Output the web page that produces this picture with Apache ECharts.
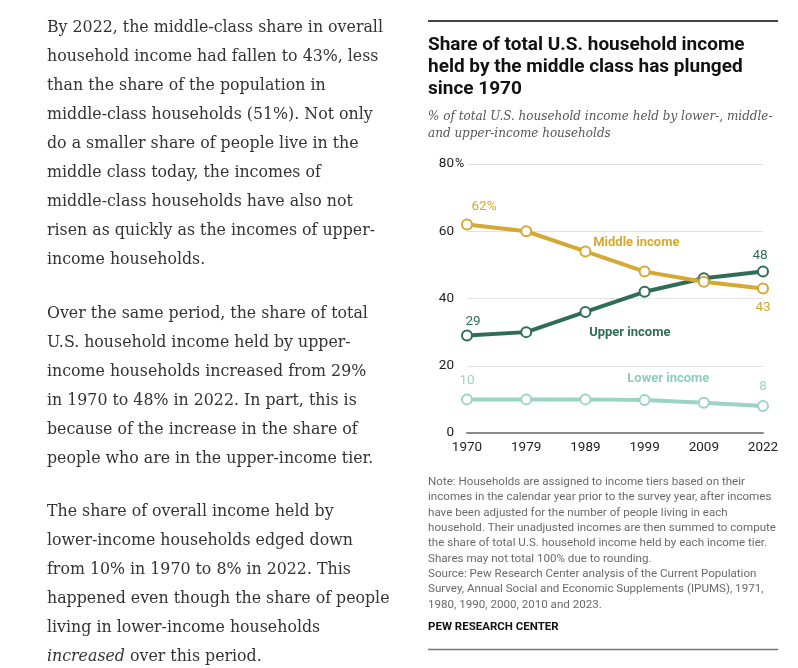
<!DOCTYPE html>
<html><head><meta charset="utf-8">
<script src="https://cdn.jsdelivr.net/npm/echarts@6/dist/echarts.min.js"></script>
<style>html,body{margin:0;padding:0;background:#fff}#c{width:798px;height:668px}</style>
</head><body><div id="c"></div>
<script>
const years = ['1970', '1979', '1989', '1999', '2009', '2022'];
const middleIncome = [62, 60, 54, 48, 45, 43];
const upperIncome = [29, 30, 36, 42, 46, 48];
const lowerIncome = [10, 10, 10, 9.8, 9, 8];
const yMin = 0, yMax = 80, yStep = 20;

const titleLines = ['Share of total U.S. household income', 'held by the middle class has plunged', 'since 1970'];
const subtitleLines = ['% of total U.S. household income held by lower-, middle-', 'and upper-income households'];
const noteLines = [
  'Note: Households are assigned to income tiers based on their',
  'incomes in the calendar year prior to the survey year, after incomes',
  'have been adjusted for the number of people living in each',
  'household. Their unadjusted incomes are then summed to compute',
  'the share of total U.S. household income held by each income tier.',
  'Shares may not total 100% due to rounding.',
  'Source: Pew Research Center analysis of the Current Population',
  'Survey, Annual Social and Economic Supplements (IPUMS), 1971,',
  '1980, 1990, 2000, 2010 and 2023.'
];
const para1 = [
  'By 2022, the middle-class share in overall',
  'household income had fallen to 43%, less',
  'than the share of the population in',
  'middle-class households (51%). Not only',
  'do a smaller share of people live in the',
  'middle class today, the incomes of',
  'middle-class households have also not',
  'risen as quickly as the incomes of upper-',
  'income households.'
];
const para2 = [
  'Over the same period, the share of total',
  'U.S. household income held by upper-',
  'income households increased from 29%',
  'in 1970 to 48% in 2022. In part, this is',
  'because of the increase in the share of',
  'people who are in the upper-income tier.'
];
const para3 = [
  'The share of overall income held by',
  'lower-income households edged down',
  'from 10% in 1970 to 8% in 2022. This',
  'happened even though the share of people',
  'living in lower-income households',
  '{i|increased} over this period.'
];

const C_MID = '#D3A833', C_UP = '#2F6D5A', C_LOW = '#9DD3C5';
const SANS = 'Roboto';
const SERIF = 'DejaVu Serif';

function endLabels(arr, firstFmt, firstOpt, lastOpt) {
  return arr.map((v, i) => {
    if (i === 0) return { value: v, label: Object.assign({ show: true, formatter: firstFmt }, firstOpt) };
    if (i === arr.length - 1) return { value: v, label: Object.assign({ show: true, formatter: '{c}' }, lastOpt) };
    return v;
  });
}

function lineSeries(name, color, data) {
  return {
    name, type: 'line', data,
    lineStyle: { color, width: 4 },
    itemStyle: { color: '#fff', borderColor: color, borderWidth: 2 },
    symbol: 'circle', symbolSize: 10, showAllSymbol: true,
    label: { show: false, color, fontFamily: SANS, fontSize: 13.5 },
    emphasis: { disabled: true }, z: 3
  };
}

const chart = echarts.init(document.getElementById('c'), null, { renderer: 'canvas' });
chart.setOption({
  animation: false,
  backgroundColor: '#fff',
  grid: { left: 467, right: 35, top: 164, bottom: 235, containLabel: false },
  xAxis: {
    type: 'category', data: years, boundaryGap: false,
    axisLine: { show: true, lineStyle: { color: '#8a8a8a', width: 2 } },
    axisTick: { show: false },
    axisLabel: { color: '#222', fontFamily: SANS, fontSize: 13.5, margin: 8 },
    splitLine: { show: false }
  },
  yAxis: {
    type: 'value', min: yMin, max: yMax, interval: yStep,
    axisLine: { show: false }, axisTick: { show: false },
    splitLine: { lineStyle: { color: '#e2e2e2', width: 1 } },
    axisLabel: { color: '#222', fontFamily: SANS, fontSize: 13.5, margin: 13 }
  },
  series: [
    lineSeries('Lower income', C_LOW, endLabels(lowerIncome, '{c}', { position: 'top', offset: [0, -1] }, { position: 'top', offset: [0, -1] })),
    lineSeries('Upper income', C_UP, endLabels(upperIncome, '{c}', { position: 'top', offset: [6, 4] }, { position: 'top', offset: [-3, 2] })),
    lineSeries('Middle income', C_MID, endLabels(middleIncome, '{c}%', { position: 'top', offset: [17, 0] }, { position: 'bottom', offset: [0, 1] }))
  ]
});

// positions anchored in data space
function px(xIdx, y) {
  const i0 = Math.floor(xIdx), f = xIdx - i0;
  const a = chart.convertToPixel({ gridIndex: 0 }, [i0, y]);
  const b = chart.convertToPixel({ gridIndex: 0 }, [Math.min(i0 + 1, years.length - 1), y]);
  return [a[0] + (b[0] - a[0]) * f, a[1]];
}
const nameAnno = [
  { text: 'Middle income', color: C_MID, at: [2.86, 56.5] },
  { text: 'Upper income', color: C_UP, at: [2.75, 29.9] },
  { text: 'Lower income', color: '#8ccdbc', at: [3.4, 16.2] }
];

const graphics = [];
graphics.push({ type: 'line', shape: { x1: 428, y1: 21, x2: 778, y2: 21 }, style: { stroke: '#444', lineWidth: 2 } });
graphics.push({ type: 'line', shape: { x1: 428, y1: 649.5, x2: 778, y2: 649.5 }, style: { stroke: '#777', lineWidth: 1.5 } });
graphics.push({ type: 'text', x: 428, y: 34, style: { text: titleLines.join('\n'), font: 'bold 19px ' + SANS, fill: '#111', lineHeight: 22, verticalAlign: 'top' } });
graphics.push({ type: 'text', x: 428, y: 108, style: { text: subtitleLines.join('\n'), font: 'italic 12px ' + SERIF, fill: '#555', lineHeight: 17, verticalAlign: 'top' } });
graphics.push({ type: 'text', x: 428, y: 474.5, style: { text: noteLines.join('\n'), font: '11.6px ' + SANS, fill: '#6a6a6a', lineHeight: 15.33, verticalAlign: 'top' } });
graphics.push({ type: 'text', x: 428, y: 619.5, style: { text: 'PEW RESEARCH CENTER', font: 'bold 11.5px ' + SANS, fill: '#111', verticalAlign: 'top', lineHeight: 15 } });
const proseStyle = { font: '15.8px ' + SERIF, fill: '#333', lineHeight: 29, verticalAlign: 'top' };
graphics.push({ type: 'text', x: 47, y: 13, style: Object.assign({ text: para1.join('\n') }, proseStyle) });
graphics.push({ type: 'text', x: 47, y: 299.5, style: Object.assign({ text: para2.join('\n') }, proseStyle) });
graphics.push({ type: 'text', x: 47, y: 497.5, style: Object.assign({ text: para3.join('\n'), rich: { i: { fontFamily: SERIF, fontSize: 15.8, fontStyle: 'italic', fill: '#333', color: '#333' } } }, proseStyle) });
nameAnno.forEach(a => {
  const p = px(a.at[0], a.at[1]);
  graphics.push({ type: 'text', x: p[0], y: p[1], style: { text: a.text, font: 'bold 13px ' + SANS, fill: a.color, align: 'center', verticalAlign: 'middle' } });
});
// "%" unit next to the top tick label
const topTick = chart.convertToPixel({ gridIndex: 0 }, [0, yMax]);
graphics.push({ type: 'text', x: topTick[0] - 12, y: topTick[1], style: { text: '%', font: '12.5px ' + SANS, fill: '#222', align: 'left', verticalAlign: 'middle' } });
chart.setOption({ graphic: graphics });
</script></body></html>
